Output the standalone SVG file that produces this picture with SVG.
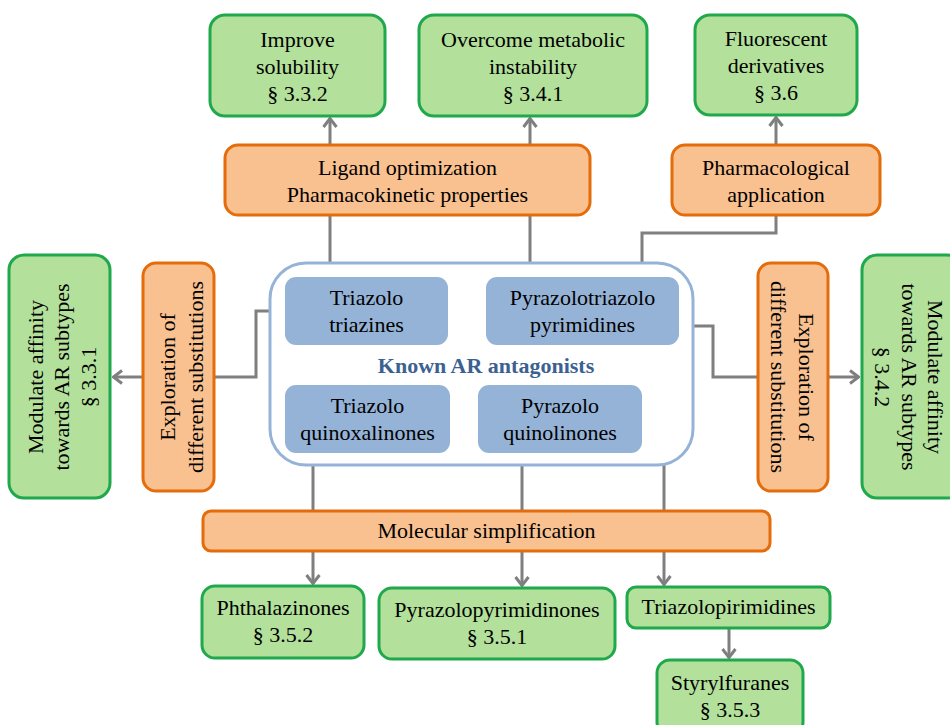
<svg xmlns="http://www.w3.org/2000/svg" width="950" height="725" viewBox="0 0 950 725">
<defs>
<style>
.g{fill:#b3e09b;stroke:#1fa84c;stroke-width:3}
.o{fill:#f9c18f;stroke:#e46c0a;stroke-width:3}
.b{fill:#95b3d7;stroke:none}
.t{font-size:22px;fill:#000;text-anchor:middle}
.k{font-size:22px;font-weight:bold;fill:#3b6193;text-anchor:middle}
.c{fill:none;stroke:#7f7f7f;stroke-width:3}
</style>
<marker id="ah" viewBox="0 0 12 16" refX="11" refY="8" markerWidth="12" markerHeight="16" markerUnits="userSpaceOnUse" orient="auto">
<polyline points="2,1.5 10.5,8 2,14.5" fill="none" stroke="#7f7f7f" stroke-width="3"/>
</marker>
</defs>

<g id="connectors">
<path class="c" d="M330,216 V277"/>
<path class="c" d="M530,216 V277"/>
<path class="c" d="M776,216 V233 H642 V277"/>
<path class="c" d="M285,311 H256 V377 H214"/>
<path class="c" d="M679,326 H713 V377 H758"/>
<path class="c" d="M313,453 V512"/>
<path class="c" d="M522,453 V512"/>
<path class="c" d="M664,345 V512"/>
<path class="c" d="M330,145 V118" marker-end="url(#ah)"/>
<path class="c" d="M530,145 V118" marker-end="url(#ah)"/>
<path class="c" d="M776,145 V117" marker-end="url(#ah)"/>
<path class="c" d="M143,377 H113" marker-end="url(#ah)"/>
<path class="c" d="M828,377 H859" marker-end="url(#ah)"/>
<path class="c" d="M313,551 V584" marker-end="url(#ah)"/>
<path class="c" d="M522,551 V586" marker-end="url(#ah)"/>
<path class="c" d="M664,551 V585" marker-end="url(#ah)"/>
<path class="c" d="M729,628 V658" marker-end="url(#ah)"/>
</g>

<g font-family="'Liberation Serif', 'Times New Roman', serif">
<g id="improve-solubility">
<rect class="g" x="210" y="15" width="175" height="101" rx="15"/>
<text class="t" x="297.5" y="47">Improve</text>
<text class="t" x="297.5" y="74">solubility</text>
<text class="t" x="297.5" y="101">§ 3.3.2</text>
</g>
<g id="overcome-metabolic">
<rect class="g" x="419" y="15" width="228" height="101" rx="15"/>
<text class="t" x="533" y="47">Overcome metabolic</text>
<text class="t" x="533" y="74">instability</text>
<text class="t" x="533" y="101">§ 3.4.1</text>
</g>
<g id="fluorescent">
<rect class="g" x="695" y="15" width="162" height="100" rx="15"/>
<text class="t" x="776" y="46">Fluorescent</text>
<text class="t" x="776" y="73">derivatives</text>
<text class="t" x="776" y="100">§ 3.6</text>
</g>

<g id="ligand-optimization">
<rect class="o" x="225" y="145" width="365" height="70" rx="13"/>
<text class="t" x="407.5" y="175">Ligand optimization</text>
<text class="t" x="407.5" y="202">Pharmacokinetic properties</text>
</g>
<g id="pharmacological">
<rect class="o" x="672" y="145" width="208" height="70" rx="13"/>
<text class="t" x="776" y="175">Pharmacological</text>
<text class="t" x="776" y="202">application</text>
</g>

<g id="modulate-left">
<rect class="g" x="9" y="255" width="101" height="243" rx="15"/>
<g transform="translate(62,377) rotate(-90)">
<text class="t" x="0" y="-19">Modulate affinity</text>
<text class="t" x="0" y="7">towards AR subtypes</text>
<text class="t" x="0" y="34">§ 3.3.1</text>
</g>
</g>
<g id="exploration-left">
<rect class="o" x="143" y="263" width="71" height="228" rx="13"/>
<g transform="translate(182,377) rotate(-90)">
<text class="t" x="0" y="-7">Exploration of</text>
<text class="t" x="0" y="21">different substitutions</text>
</g>
</g>
<g id="exploration-right">
<rect class="o" x="758" y="263" width="70" height="228" rx="13"/>
<g transform="translate(792,377) rotate(90)">
<text class="t" x="0" y="-7">Exploration of</text>
<text class="t" x="0" y="21">different substitutions</text>
</g>
</g>
<g id="modulate-right">
<rect class="g" x="862" y="255" width="100" height="243" rx="15"/>
<g transform="translate(909,377) rotate(90)">
<text class="t" x="0" y="-19">Modulate affinity</text>
<text class="t" x="0" y="7">towards AR subtypes</text>
<text class="t" x="0" y="34">§ 3.4.2</text>
</g>
</g>

<g id="known-ar-antagonists">
<rect x="270" y="263" width="423" height="202" rx="36" fill="#fff" stroke="#95b3d7" stroke-width="3"/>
<text class="k" x="486" y="373">Known AR antagonists</text>
</g>
<g id="triazolo-triazines">
<rect class="b" x="285" y="277" width="163" height="68" rx="11"/>
<text class="t" x="366.5" y="305">Triazolo</text>
<text class="t" x="366.5" y="332">triazines</text>
</g>
<g id="pyrazolotriazolo-pyrimidines">
<rect class="b" x="486" y="277" width="193" height="68" rx="11"/>
<text class="t" x="582.5" y="305">Pyrazolotriazolo</text>
<text class="t" x="582.5" y="332">pyrimidines</text>
</g>
<g id="triazolo-quinoxalinones">
<rect class="b" x="285" y="385" width="165" height="68" rx="11"/>
<text class="t" x="367.5" y="413">Triazolo</text>
<text class="t" x="367.5" y="440">quinoxalinones</text>
</g>
<g id="pyrazolo-quinolinones">
<rect class="b" x="478" y="385" width="164" height="68" rx="11"/>
<text class="t" x="560" y="413">Pyrazolo</text>
<text class="t" x="560" y="440">quinolinones</text>
</g>

<g id="molecular-simplification">
<rect class="o" x="203" y="511" width="567" height="40" rx="8"/>
<text class="t" x="486.5" y="538">Molecular simplification</text>
</g>

<g id="phthalazinones">
<rect class="g" x="202" y="586" width="162" height="72" rx="13"/>
<text class="t" x="283" y="615">Phthalazinones</text>
<text class="t" x="283" y="642">§ 3.5.2</text>
</g>
<g id="pyrazolopyrimidinones">
<rect class="g" x="379" y="588" width="236" height="71" rx="13"/>
<text class="t" x="497" y="617">Pyrazolopyrimidinones</text>
<text class="t" x="497" y="644">§ 3.5.1</text>
</g>
<g id="triazolopirimidines">
<rect class="g" x="627" y="587" width="203" height="41" rx="9"/>
<text class="t" x="728.5" y="614">Triazolopirimidines</text>
</g>
<g id="styrylfuranes">
<rect class="g" x="657" y="660" width="146" height="75" rx="13"/>
<text class="t" x="730" y="690">Styrylfuranes</text>
<text class="t" x="730" y="717">§ 3.5.3</text>
</g>
</g>
</svg>
